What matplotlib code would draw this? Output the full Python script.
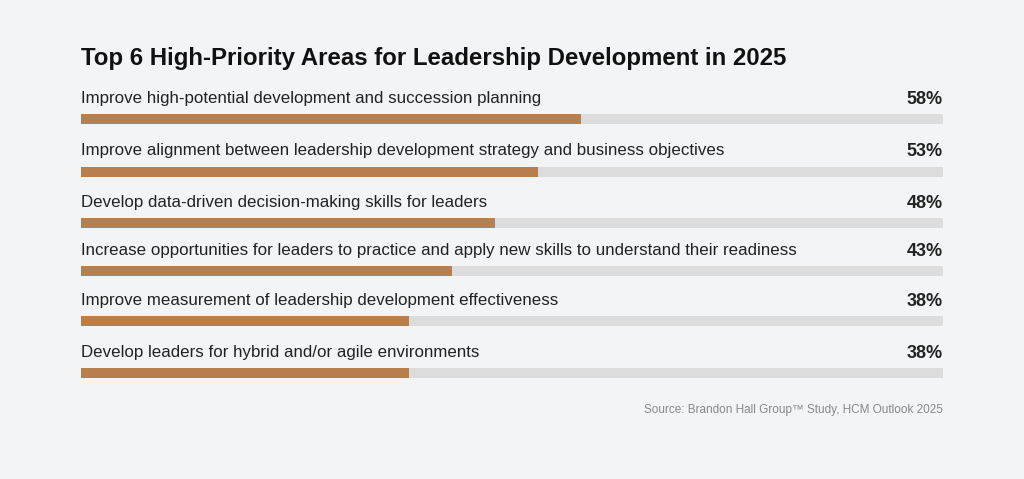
import matplotlib
matplotlib.use("Agg")
import matplotlib.pyplot as plt

categories = [
    "Improve high-potential development and succession planning",
    "Improve alignment between leadership development strategy and business objectives",
    "Develop data-driven decision-making skills for leaders",
    "Increase opportunities for leaders to practice and apply new skills to understand their readiness",
    "Improve measurement of leadership development effectiveness",
    "Develop leaders for hybrid and/or agile environments",
]
values = [58, 53, 48, 43, 38, 38]
title = "Top 6 High-Priority Areas for Leadership Development in 2025"
source = "Source: Brandon Hall Group\u2122 Study, HCM Outlook 2025"

W, H = 1024, 479
bg = "#f3f4f5"
fig = plt.figure(figsize=(W/100, H/100), dpi=100, facecolor=bg)
x0, x1 = 81, 943
ax = fig.add_axes([x0/W, 0, (x1-x0)/W, 1])
ax.set_facecolor(bg)
ax.set_xlim(0, 100)
ax.set_ylim(H, 0)
ax.axis("off")

bar_y = [119, 172, 223, 271, 321, 373]
bh = 10
ax.barh(bar_y, [100]*len(values), height=bh, color="#dcdcdc", left=0)
ax.barh(bar_y, values, height=bh, color="#b87f4d", left=0)
for y, c, v in zip(bar_y, categories, values):
    ax.text(0, y - 21, c, fontsize=12.2, color="#222222", va="center", ha="left", family="Liberation Sans")
    ax.text(100, y - 20, f"{v}%", fontsize=13, fontweight="bold", color="#222222", va="center", ha="right", family="Liberation Sans")

ax.text(0, 58, title, fontsize=17.3, fontweight="bold", color="#111111", va="center", ha="left", family="Liberation Sans")
ax.text(100, 410, source, fontsize=8.5, color="#888888", va="center", ha="right", family="Liberation Sans")

fig.savefig("out.png", dpi=100, facecolor=bg)
